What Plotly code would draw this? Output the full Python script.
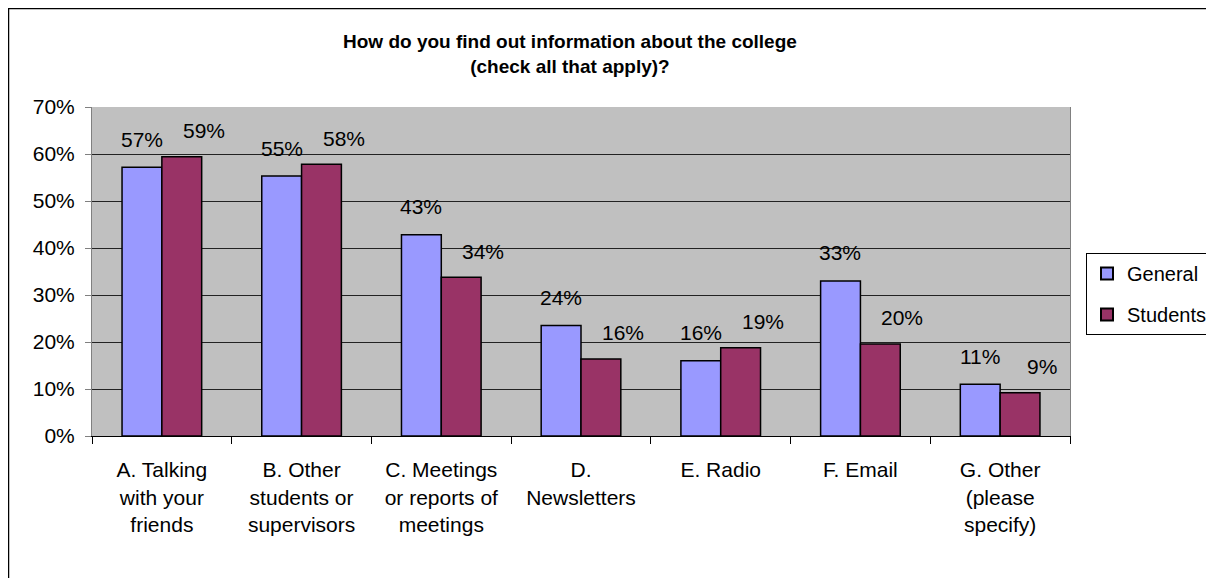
import plotly.graph_objects as go

categories = ["A. Talking<br>with your<br>friends", "B. Other<br>students or<br>supervisors",
              "C. Meetings<br>or reports of<br>meetings", "D.<br>Newsletters",
              "E. Radio", "F. Email", "G. Other<br>(please<br>specify)"]
general = [0.572, 0.553, 0.428, 0.235, 0.160, 0.330, 0.110]
students = [0.594, 0.578, 0.338, 0.164, 0.188, 0.196, 0.092]
series_names = ["General", "Students"]
y_ticks = [0, 0.1, 0.2, 0.3, 0.4, 0.5, 0.6, 0.7]

FONT = "Liberation Sans, Arial, sans-serif"
# page has an 8px body margin, so the figure is sized/positioned to compensate
W, H = 1206, 570
L, R, T, B = 84, 144, 99, 142
pw, ph = W - L - R, H - T - B


def px_x(x):
    return (x - L) / pw


def px_y(y):
    return (H - B - y) / ph


fig = go.Figure()
fig.add_trace(go.Bar(name=series_names[0], x=categories, y=general, legendgroup="g",
                     marker=dict(color="#9999FF", line=dict(color="black", width=1.5))))
fig.add_trace(go.Bar(name=series_names[1], x=categories, y=students, legendgroup="s",
                     marker=dict(color="#993366", line=dict(color="black", width=1.5))))

annotations = []
for vals, xs, ys in ((general, -20, 28), (students, 42, 26)):
    for c, v in zip(categories, vals):
        annotations.append(dict(x=c, y=v, xref="x", yref="y", text=f"{round(v*100)}%",
                                showarrow=False, xshift=xs, yshift=ys,
                                font=dict(family=FONT, size=21, color="black")))

annotations.append(dict(x=px_x(562), y=px_y(46), xref="paper", yref="paper",
                        showarrow=False, yanchor="middle", xanchor="center",
                        text="<b>How do you find out information about the college<br>(check all that apply)?</b>",
                        font=dict(family=FONT, size=19, color="black")))

fig.update_layout(
    width=W, height=H,
    margin=dict(l=L, r=R, t=T, b=B, autoexpand=False),
    paper_bgcolor="white", plot_bgcolor="#C0C0C0",
    barmode="group", bargap=0.43, bargroupgap=0,
    font=dict(family=FONT, size=21, color="black"),
    showlegend=True,
    legend=dict(x=px_x(1204), y=px_y(245), xanchor="right", yanchor="top",
                bordercolor="black", borderwidth=1, bgcolor="white",
                font=dict(family=FONT, size=20), itemsizing="constant",
                tracegroupgap=12, itemwidth=30),
    annotations=annotations,
    shapes=[dict(type="rect", xref="paper", yref="paper",
                 x0=px_x(0.5), x1=px_x(W + 10),
                 y0=px_y(H + 10), y1=px_y(0.5),
                 line=dict(color="black", width=1.5), layer="below")],
)
fig.update_xaxes(showline=True, linecolor="black", linewidth=1, ticks="outside",
                 tickson="boundaries", ticklen=7, tickcolor="black",
                 tickfont=dict(family=FONT, size=21), showgrid=False,
                 ticklabelstandoff=15)
fig.update_yaxes(range=[0, 0.7], tickvals=y_ticks, tickformat=".0%",
                 showline=True, linecolor="#808080", linewidth=1, mirror=True,
                 ticks="outside", ticklen=6, tickcolor="#808080",
                 gridcolor="#222222", gridwidth=1, zeroline=False,
                 tickfont=dict(family=FONT, size=21), ticklabelstandoff=6)

fig.write_html("out.html")
